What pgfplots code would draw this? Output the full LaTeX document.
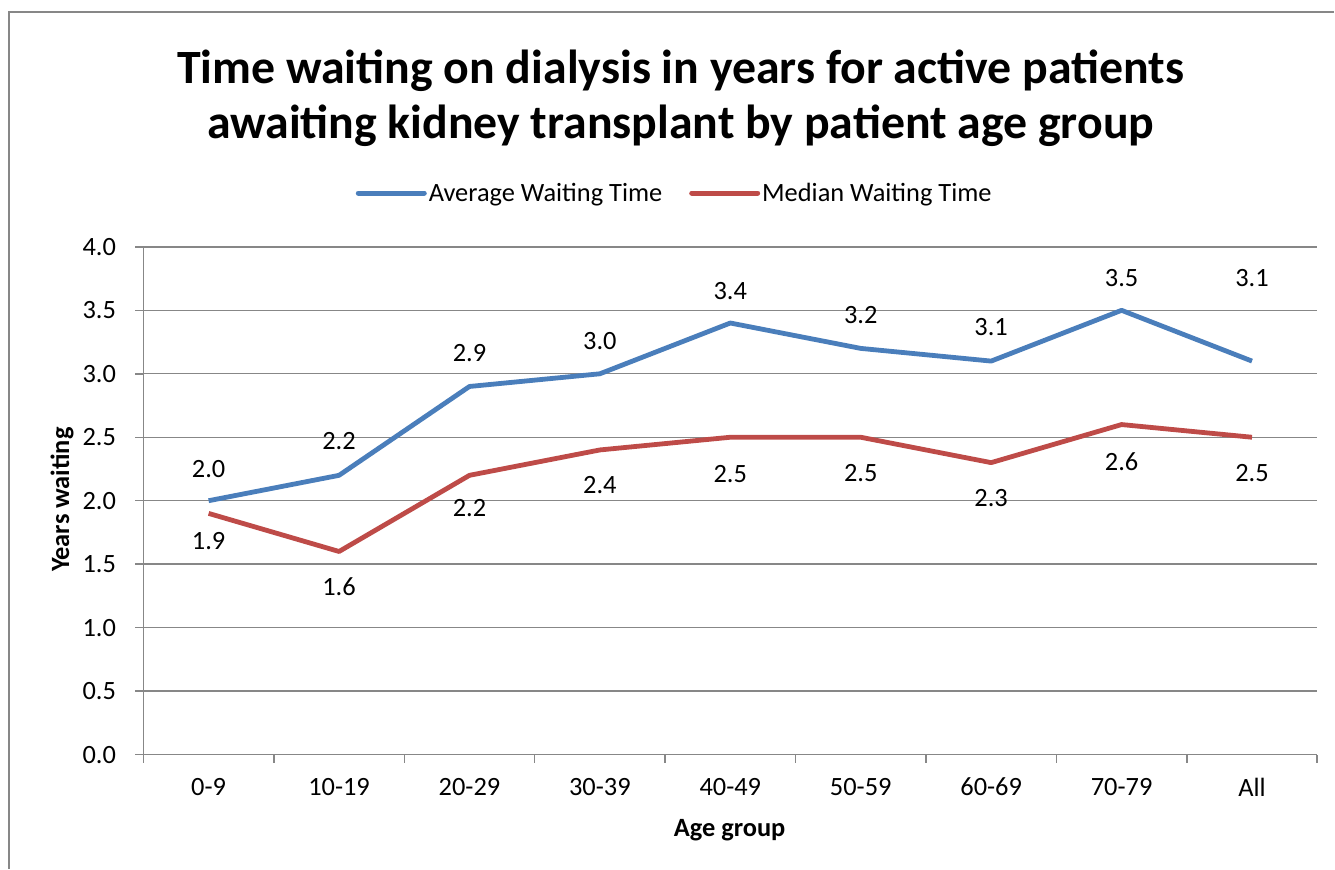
\documentclass[border=0pt]{standalone}
\usepackage{pgfplots}
\pgfplotsset{compat=1.18}
\usepackage{pgfplotstable}
\usetikzlibrary{calc}
\usepackage{fontspec}
\setmainfont{Carlito}
\definecolor{avgblue}{HTML}{4A7EBB}
\definecolor{medred}{HTML}{BE4B48}
\definecolor{axgray}{HTML}{878787}

\pgfplotstableread{
x y
0 2.0
1 2.2
2 2.9
3 3.0
4 3.4
5 3.2
6 3.1
7 3.5
8 3.1
}\avgdata
\pgfplotstableread{
x y
0 1.9
1 1.6
2 2.2
3 2.4
4 2.5
5 2.5
6 2.3
7 2.6
8 2.5
}\meddata
% label positions (y) and texts
\pgfplotstableread{
x y lab
0 2.25 2.0
1 2.47 2.2
2 3.16 2.9
3 3.26 3.0
4 3.655 3.4
5 3.465 3.2
6 3.37 3.1
7 3.756 3.5
8 3.756 3.1
}\avglab
\pgfplotstableread{
x y lab
0 1.68 1.9
1 1.32 1.6
2 1.94 2.2
3 2.12 2.4
4 2.21 2.5
5 2.22 2.5
6 2.02 2.3
7 2.31 2.6
8 2.22 2.5
}\medlab

\begin{document}
\begin{tikzpicture}
\begin{axis}[
  scale only axis, width=1174.5bp, height=508bp,
  xmin=-0.5, xmax=8.5, ymin=0, ymax=4,
  axis lines*=left,
  axis line style={axgray, line width=1.5bp},
  tick style={axgray, line width=1.5bp},
  tick align=outside,
  major tick length=8bp, minor tick length=8bp,
  xtick={0,...,8},
  xticklabels={0-9,10-19,20-29,30-39,40-49,50-59,60-69,70-79,All},
  every major x tick/.append style={draw=none},
  minor xtick={-0.5,0.5,...,8.5},
  ytick={0,0.5,...,4},
  yticklabels={0.0,0.5,1.0,1.5,2.0,2.5,3.0,3.5,4.0},
  ymajorgrids,
  grid style={axgray, line width=1.4bp},
  ticklabel style={font=\fontsize{26.5}{30}\selectfont},
  yticklabel style={xshift=-16bp},
  xticklabel style={yshift=-12bp},
  xlabel={Age group},
  ylabel={Years waiting},
  xlabel style={font=\fontsize{26.5}{30}\selectfont\bfseries, at={(axis description cs:0.4994,-0.148)}, anchor=center},
  ylabel style={font=\fontsize{26.5}{30}\selectfont\bfseries, at={(axis description cs:-0.0694,0.502)}, anchor=center},
  legend style={at={(0.4526,1.106)}, anchor=center, draw=none, fill=none,
    font=\fontsize{26.5}{30}\selectfont, legend columns=2,
    /tikz/every even column/.append style={column sep=25bp},
    legend cell align=left},
  legend image code/.code={\draw[#1, line width=5bp, line cap=round] (0bp,0bp) -- (66bp,0bp);},
  clip=false,
]
\addplot[avgblue, line width=4.8bp, no markers, line join=round] table[x=x,y=y] {\avgdata};
\addlegendentry{Average Waiting Time}
\addplot[medred, line width=4.8bp, no markers, line join=round] table[x=x,y=y] {\meddata};
\addlegendentry{Median Waiting Time}
\addplot[draw=none, no markers, forget plot, point meta=explicit symbolic,
  nodes near coords, nodes near coords align=center,
  every node near coord/.append style={font=\fontsize{26.5}{30}\selectfont, text=black, anchor=center}]
  table[x=x,y=y,meta=lab] {\avglab};
\addplot[draw=none, no markers, forget plot, point meta=explicit symbolic,
  nodes near coords, nodes near coords align=center,
  every node near coord/.append style={font=\fontsize{26.5}{30}\selectfont, text=black, anchor=center}]
  table[x=x,y=y,meta=lab] {\medlab};
\coordinate (O) at (rel axis cs:0,0);
\end{axis}
\begin{scope}[shift={($(O)+(-143.5bp,-114bp)$)}, x=1bp, y=1bp]
\path (0,0) rectangle (1335,869);
\draw[axgray, line width=1.5bp] (9,0) -- (9,857) -- (1335,857);
\node[font=\fontsize{48}{55}\selectfont\bfseries, align=center] at (681,771) {Time waiting on dialysis in years for active patients\\awaiting kidney transplant by patient age group};
\end{scope}
\end{tikzpicture}
\end{document}
